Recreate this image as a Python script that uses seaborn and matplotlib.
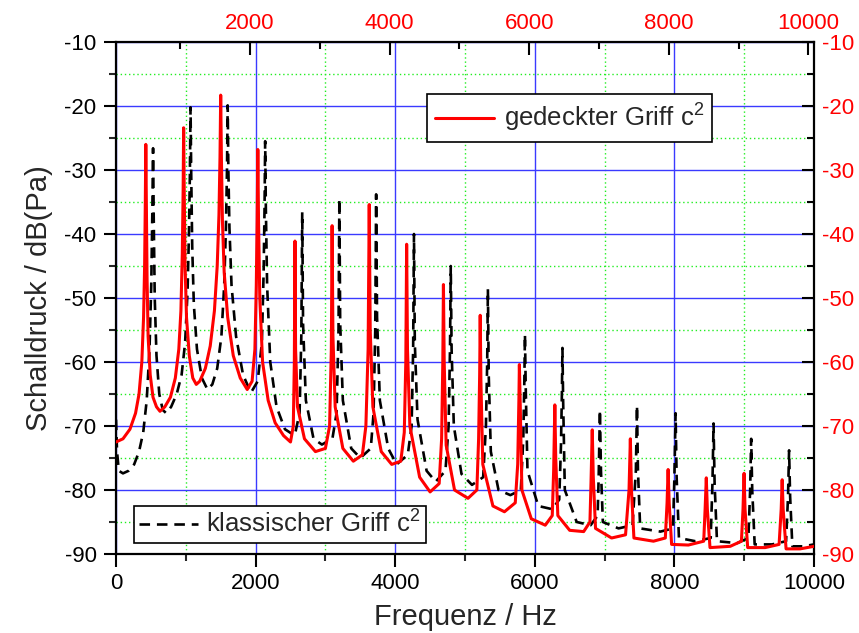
import matplotlib
matplotlib.use("Agg")
import matplotlib.pyplot as plt
import seaborn as sns
import pandas as pd
from matplotlib.ticker import MultipleLocator, FixedLocator

# ---- data ----
red_freq = [0, 100, 200, 280, 330, 370, 395, 410, 420, 427, 435, 445, 460, 490, 530, 580, 630, 700,
            780, 850, 900, 930, 950, 962, 969, 977, 990, 1010, 1050, 1100, 1150, 1200,
            1280, 1350, 1410, 1450, 1475, 1490, 1500, 1510, 1525, 1550, 1600, 1680, 1780, 1880, 1950,
            1990, 2010, 2022, 2032, 2042, 2060, 2100, 2180, 2280, 2400, 2500,
            2540, 2555, 2564, 2573, 2600, 2700, 2857, 3000,
            3060, 3085, 3096, 3108, 3140, 3250, 3400, 3530,
            3580, 3612, 3628, 3642, 3680, 3800, 3950, 4080,
            4130, 4152, 4164, 4176, 4210, 4350, 4500, 4630,
            4665, 4682, 4691, 4702, 4730, 4850, 5043, 5170,
            5195, 5210, 5218, 5228, 5255, 5400, 5565, 5720,
            5755, 5772, 5779, 5790, 5815, 5950, 6150, 6250,
            6270, 6287, 6300, 6330, 6500, 6700, 6790,
            6805, 6823, 6838, 6870, 7100, 7300,
            7350, 7369, 7385, 7420, 7700, 7870,
            7895, 7910, 7925, 7960, 8200, 8420,
            8440, 8457, 8472, 8510, 8800, 8960,
            8983, 8998, 9012, 9050, 9300, 9500,
            9530, 9544, 9558, 9600, 9800, 10000]
red_db = [-72.5, -72, -70.5, -68, -65, -60, -53, -45, -35, -26, -35, -47, -56, -62, -65.5, -67, -67.7, -67,
          -65.5, -62.5, -58, -52, -43, -33, -23.4, -33, -45, -53, -59, -62.5, -63.5, -63,
          -61, -57.5, -52, -45, -37, -28, -18.3, -28, -38, -46, -53, -59, -62.5, -64.3, -63,
          -58, -48, -38, -26.8, -38, -50, -60, -66, -69.5, -71.5, -72.5,
          -70, -60, -41.1, -58, -67, -72, -74, -73.5,
          -70, -58, -38.7, -56, -67, -73.5, -75.5, -74.5,
          -70, -58, -35.4, -55, -67, -74, -76, -75.5,
          -71, -60, -41.6, -58, -70, -78, -80.3, -79,
          -72, -60, -47.9, -60, -73, -80, -81.3, -80,
          -72, -62, -52.7, -63, -76, -82.5, -83.4, -82,
          -76, -66, -60.4, -66, -80, -84.5, -85.5, -84,
          -77, -66.7, -75, -84, -86.3, -86.5, -85,
          -79, -70.6, -78, -86, -87.5, -87,
          -80, -72, -80, -87.5, -88, -87.5,
          -82, -76.8, -82, -88.5, -88.6, -88,
          -83, -78.1, -83, -89, -88.8, -88,
          -83, -77.4, -83, -89, -89, -88.5,
          -83, -78.4, -83, -89.2, -89.2, -88.8]

black_freq = [0, 15, 40, 100, 180, 260, 330, 390, 440, 480, 505, 520, 531, 540, 555, 580, 620, 670, 720, 790,
              870, 940, 990, 1025, 1045, 1058, 1068, 1078, 1092, 1115, 1160, 1230, 1311, 1380,
              1450, 1510, 1550, 1575, 1590, 1600, 1610, 1625, 1655, 1720, 1820, 1933, 2030,
              2090, 2115, 2128, 2137, 2147, 2165, 2210, 2300, 2420, 2560,
              2630, 2655, 2668, 2680, 2720, 2830, 2950, 3100,
              3160, 3188, 3200, 3212, 3250, 3370, 3500, 3650,
              3690, 3714, 3727, 3740, 3780, 3900, 4020, 4180,
              4235, 4257, 4269, 4281, 4320, 4450, 4580, 4720,
              4765, 4785, 4796, 4808, 4840, 4950, 5100, 5260,
              5300, 5318, 5328, 5340, 5370, 5480, 5650, 5800,
              5835, 5850, 5859, 5870, 5895, 6050, 6250, 6350,
              6375, 6388, 6396, 6406, 6430, 6600, 6800, 6900,
              6915, 6933, 6948, 6975, 7200, 7400,
              7448, 7464, 7478, 7510, 7800, 7980,
              8000, 8017, 8032, 8065, 8300, 8520,
              8545, 8561, 8576, 8610, 8900, 9060,
              9085, 9100, 9115, 9150, 9400, 9600,
              9628, 9643, 9658, 9690, 9850, 10000]
black_db = [-69, -74, -77, -77.4, -77, -76, -74, -71, -66, -58, -48, -37, -26.6, -37, -50, -59, -65, -67.5, -68, -67,
            -65, -62, -57, -49, -40, -31, -20.2, -31, -42, -51, -58, -62.5, -64.3, -63.5,
            -61, -56, -48, -39, -30, -19.9, -30, -39, -48, -56, -62, -64.8, -63,
            -57, -46, -36, -25.5, -36, -48, -60, -67, -70.5, -71.5,
            -68, -56, -36.6, -54, -66, -72, -72.9, -72,
            -68, -55, -34.5, -54, -66, -73.5, -75, -73.5,
            -68, -55, -33.8, -53, -66, -73.5, -76, -74.5,
            -70, -58, -40, -57, -69, -77, -78.7, -77,
            -70, -58, -45, -58, -70, -77.5, -79.2, -78,
            -70, -60, -48.6, -62, -74, -80, -80.8, -80,
            -72, -63, -55.7, -64, -77, -82.5, -83, -81.5,
            -73, -65, -57.8, -66, -80, -85, -85.5, -84,
            -78, -67.5, -77, -85, -86, -85.5,
            -77, -66.8, -77, -86, -86.5, -86,
            -78, -68, -78, -87.5, -88, -87.5,
            -79, -69.6, -79, -88, -88.3, -87.5,
            -80, -72, -80, -88.5, -88.5, -88,
            -81, -73.8, -81, -88.8, -88.8, -88.5]

x_ticks = [0, 2000, 4000, 6000, 8000, 10000]
top_ticks = [2000, 4000, 6000, 8000, 10000]
y_ticks = [-10, -20, -30, -40, -50, -60, -70, -80, -90]
label_red = "gedeckter Griff c$^2$"
label_black = "klassischer Griff c$^2$"

sns.set_style("ticks")
plt.rcParams['font.family'] = ['Liberation Sans', 'DejaVu Sans']
plt.rcParams['mathtext.fontset'] = 'custom'
plt.rcParams['mathtext.rm'] = 'Liberation Sans'
plt.rcParams['mathtext.it'] = 'Liberation Sans'
plt.rcParams['axes.unicode_minus'] = False

fig = plt.figure(figsize=(8.59, 6.33), dpi=100)
L, R, B, T = 116/859, 814/859, 1-554/633, 1-42/633
ax = fig.add_axes([L, B, R-L, T-B])

df_b = pd.DataFrame({'f': black_freq, 'db': black_db})
df_r = pd.DataFrame({'f': red_freq, 'db': red_db})

sns.lineplot(data=df_b, x='f', y='db', ax=ax, color='black', lw=1.9, estimator=None,
             sort=False, linestyle=(0, (4, 2.6)), label=label_black, zorder=3)
sns.lineplot(data=df_r, x='f', y='db', ax=ax, color='#ff0000', lw=2.2, estimator=None,
             sort=False, label=label_red, zorder=4)

ax.set_xlim(0, 10000)
ax.set_ylim(-90, -10)
ax.xaxis.set_major_locator(FixedLocator(x_ticks))
ax.xaxis.set_minor_locator(MultipleLocator(1000))
ax.yaxis.set_major_locator(FixedLocator(y_ticks))
ax.yaxis.set_minor_locator(MultipleLocator(5))
ax.set_axisbelow(True)
ax.grid(which='major', color='#3a3aff', lw=1.0, ls='-')
ax.grid(which='minor', color='#22ee22', lw=1.0, ls=(0, (1, 2)))
ax.tick_params(which='major', direction='out', length=9, width=1.5, labelsize=16, pad=5,
               colors='black')
ax.tick_params(which='minor', direction='out', length=5, width=1.5)
for s in ax.spines.values():
    s.set_linewidth(1.6)
    s.set_color('black')
ax.set_xlabel('Frequenz / Hz', fontsize=21, labelpad=6)
ax.set_ylabel('Schalldruck / dB(Pa)', fontsize=21, labelpad=8)

handles, labels = ax.get_legend_handles_labels()
hb = handles[labels.index(label_black)]
hr = handles[labels.index(label_red)]
leg1 = ax.legend([hr], [label_red], loc='upper left', bbox_to_anchor=(0.4456, 0.898),
                 borderaxespad=0, fontsize=18.5, handlelength=2.3, handletextpad=0.4,
                 fancybox=False, edgecolor='black', framealpha=1, borderpad=0.3)
leg1.get_frame().set_linewidth(1.2)
ax.add_artist(leg1)
leg2 = ax.legend([hb], [label_black], loc='lower left', bbox_to_anchor=(0.0258, 0.0215),
                 borderaxespad=0, fontsize=18.5, handlelength=2.3, handletextpad=0.3,
                 fancybox=False, edgecolor='black', framealpha=1, borderpad=0.2)
leg2.get_frame().set_linewidth(1.2)
for lg in (leg1, leg2):
    lg.set_zorder(10)

# secondary top / right axis (red labels)
ax2 = fig.add_axes([L, B, R-L, T-B], frameon=False)
ax2.patch.set_visible(False)
ax2.set_xlim(80, 10080)
ax2.set_ylim(-90, -10)
ax2.xaxis.tick_top()
ax2.yaxis.tick_right()
ax2.xaxis.set_major_locator(FixedLocator(top_ticks))
ax2.xaxis.set_minor_locator(MultipleLocator(1000))
ax2.yaxis.set_major_locator(FixedLocator(y_ticks))
ax2.yaxis.set_minor_locator(MultipleLocator(5))
ax2.tick_params(which='major', direction='in', length=9, width=1.5, labelsize=16,
                labelcolor='#ff0000', color='black', pad=6)
ax2.tick_params(which='minor', direction='in', length=5, width=1.5, color='black')
ax2.grid(False)

fig.savefig('out.png', dpi=100)
